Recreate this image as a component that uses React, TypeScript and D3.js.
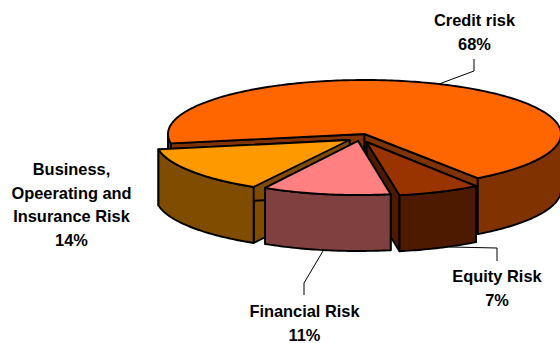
import React from "react";
import * as d3 from "d3";

// Share of total risk by category, in percent.
const categories = ["Credit risk", "Equity Risk", "Financial Risk", "Business"];
const shares = [68, 7, 11, 14];
const topColors = ["#FF6600", "#993300", "#FF8080", "#FF9900"];
const sideColors = ["#803300", "#4D1A00", "#804040", "#804D00"];

// Where each wedge's apex sits after being pulled out of the pie, and its horizontal radius.
const apexX = [364.5, 366.5, 358, 349.5];
const apexY = [134, 142, 141, 140];
const radiusX = [196.5, 190, 188, 194];

const RY = 54;
const DEPTH = 56;
const deg = Math.PI / 180;

// Wedge paint order, back to front.
const paintOrder = [0, 3, 1, 2];

const pieLayout = d3
  .pie<number>()
  .sort(null)
  .value((d) => d)
  .startAngle(260 * deg)
  .endAngle(260 * deg + 2 * Math.PI);

const outline = d3
  .line<[number, number]>()
  .x((p) => p[0])
  .y((p) => p[1]);

type Pt = [number, number];

function rimPoints(cx: number, cy: number, rx: number, a0: number, a1: number, dy = 0): Pt[] {
  const steps = Math.max(2, Math.ceil(Math.abs(a1 - a0) / (1 * deg)));
  return d3.range(steps + 1).map((i) => {
    const a = a0 + ((a1 - a0) * i) / steps;
    return [cx + rx * Math.sin(a), cy - RY * Math.cos(a) + dy] as Pt;
  });
}

function closed(points: Pt[]): string {
  return (outline(points) ?? "") + "Z";
}

// The front-facing stretch of the rim lies between 90 and 270 degrees.
function frontRanges(a0: number, a1: number): [number, number][] {
  const out: [number, number][] = [];
  for (const k of [0, 1, 2]) {
    const lo = Math.max(a0, (90 + 360 * k) * deg);
    const hi = Math.min(a1, (270 + 360 * k) * deg);
    if (hi > lo) out.push([lo, hi]);
  }
  return out;
}

function Wedge({ index, a0, a1 }: { index: number; a0: number; a1: number }) {
  const cx = apexX[index];
  const cy = apexY[index];
  const rx = radiusX[index];
  const side = sideColors[index];
  const apex: Pt = [cx, cy];
  const apexLow: Pt = [cx, cy + DEPTH];
  const wall = (a: number) => {
    const rim = rimPoints(cx, cy, rx, a, a)[0];
    return closed([apex, rim, [rim[0], rim[1] + DEPTH], apexLow]);
  };
  const common = { stroke: "#000", strokeWidth: 1.9, strokeLinejoin: "round" as const };
  return (
    <g>
      <path d={wall(a0)} fill={side} {...common} />
      <path d={wall(a1)} fill={side} {...common} />
      {frontRanges(a0, a1).map(([lo, hi], i) => (
        <path
          key={i}
          d={closed([...rimPoints(cx, cy, rx, lo, hi), ...rimPoints(cx, cy, rx, hi, lo, DEPTH)])}
          fill={side}
          {...common}
        />
      ))}
      <path d={closed([apex, ...rimPoints(cx, cy, rx, a0, a1)])} fill={topColors[index]} {...common} />
    </g>
  );
}

function Label({ x, y, lines }: { x: number; y: number; lines: string[] }) {
  return (
    <text
      textAnchor="middle"
      fontFamily="'Liberation Sans', Arial, sans-serif"
      fontWeight="bold"
      fontSize={16.4}
      fill="#000"
    >
      {lines.map((line, i) => (
        <tspan key={i} x={x} y={y + i * 23.5}>
          {line}
        </tspan>
      ))}
    </text>
  );
}

export default function App() {
  const arcs = pieLayout(shares);
  return (
    <svg
      width={560}
      height={343}
      viewBox="0 0 560 343"
      style={{ position: "absolute", left: 0, top: 0, background: "#fff" }}
    >
      {paintOrder.map((i) => (
        <Wedge key={categories[i]} index={i} a0={arcs[i].startAngle} a1={arcs[i].endAngle} />
      ))}
      <g fill="none" stroke="#000" strokeWidth={1}>
        <polyline points="474,59 474,71 439,84" />
        <polyline points="497,261 497,248 450,247" />
        <polyline points="304,295 304,283 323,251" />
      </g>
      <Label x={474.5} y={26} lines={[categories[0], `${shares[0]}%`]} />
      <Label x={497} y={282} lines={[categories[1], `${shares[1]}%`]} />
      <Label x={304.5} y={317} lines={[categories[2], `${shares[2]}%`]} />
      <Label x={71.5} y={175} lines={["Business,", "Opeerating and", "Insurance Risk", `${shares[3]}%`]} />
    </svg>
  );
}
